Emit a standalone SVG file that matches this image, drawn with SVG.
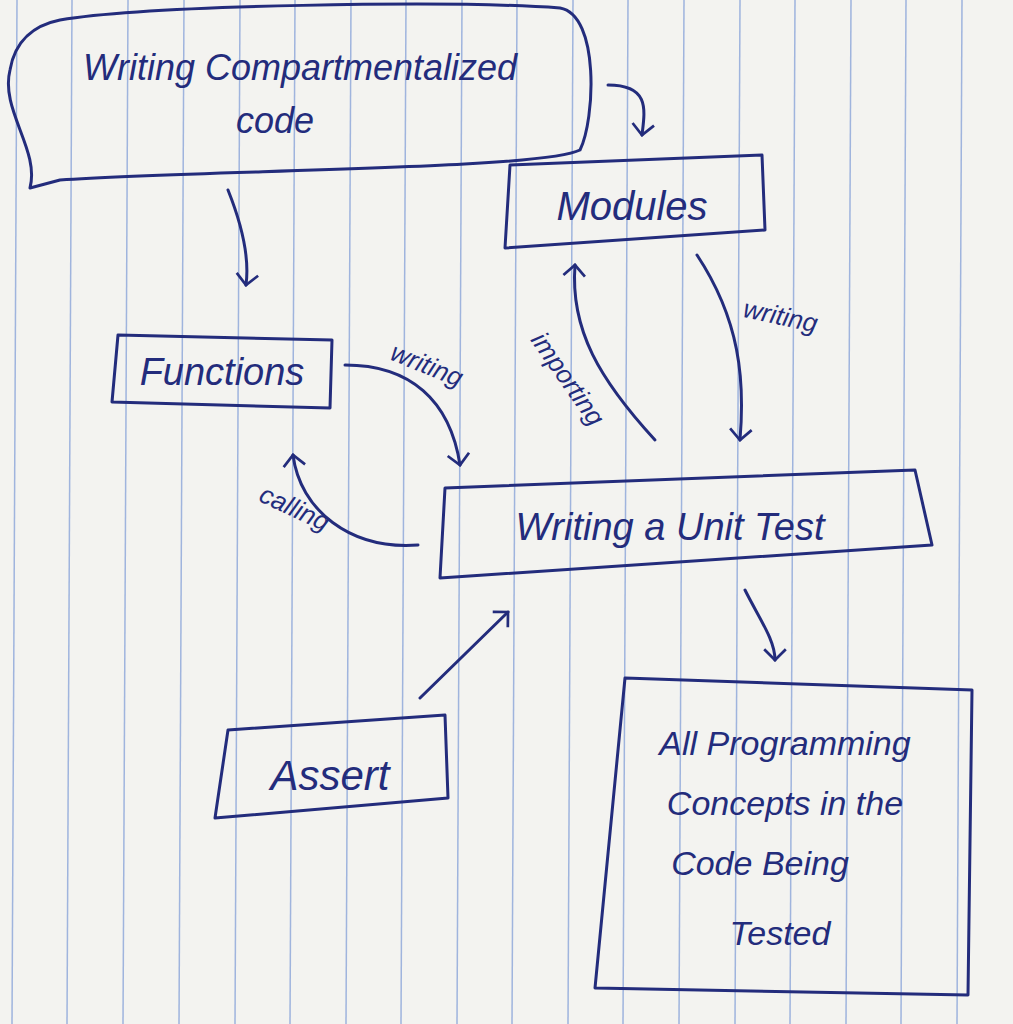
<svg xmlns="http://www.w3.org/2000/svg" width="1013" height="1024" viewBox="0 0 1013 1024">
<style>
.ink{fill:none;stroke:#232c7c;stroke-width:3;stroke-linecap:round;stroke-linejoin:round}
.t{font-family:"Liberation Sans",sans-serif;font-style:italic;fill:#232c7c}
.rule{stroke:#9fb4dd;stroke-width:1.5}
</style>
<defs>
<marker id="a" viewBox="0 0 20 20" refX="10" refY="10" markerWidth="9" markerHeight="9" orient="auto" markerUnits="strokeWidth">
<path d="M2,2 L10,10 L2,18" fill="none" stroke="#232c7c" stroke-width="2"/>
</marker>
</defs>
<rect width="1013" height="1024" fill="#f3f3f0"/>
<g id="rules">
<line class="rule" x1="17" y1="0" x2="12" y2="1024"/><line class="rule" x1="72" y1="0" x2="67" y2="1024"/>
<line class="rule" x1="128" y1="0" x2="123" y2="1024"/><line class="rule" x1="184" y1="0" x2="179" y2="1024"/>
<line class="rule" x1="240" y1="0" x2="235" y2="1024"/><line class="rule" x1="295" y1="0" x2="290" y2="1024"/>
<line class="rule" x1="351" y1="0" x2="346" y2="1024"/><line class="rule" x1="406" y1="0" x2="401" y2="1024"/>
<line class="rule" x1="462" y1="0" x2="457" y2="1024"/><line class="rule" x1="517" y1="0" x2="512" y2="1024"/>
<line class="rule" x1="573" y1="0" x2="568" y2="1024"/><line class="rule" x1="628" y1="0" x2="623" y2="1024"/>
<line class="rule" x1="684" y1="0" x2="679" y2="1024"/><line class="rule" x1="740" y1="0" x2="735" y2="1024"/>
<line class="rule" x1="795" y1="0" x2="790" y2="1024"/><line class="rule" x1="851" y1="0" x2="846" y2="1024"/>
<line class="rule" x1="906" y1="0" x2="901" y2="1024"/><line class="rule" x1="962" y1="0" x2="957" y2="1024"/>
</g>
<g id="cloud">
<path class="ink" d="M60,20 C150,5 450,0 560,8 C600,15 595,120 580,150 C540,170 200,170 60,180 L30,188 C40,150 0,110 10,70 C15,40 35,25 60,20 Z"/>
<text class="t" x="300" y="80" font-size="36" text-anchor="middle">Writing Compartmentalized</text>
<text class="t" x="275" y="133" font-size="36" text-anchor="middle">code</text>
</g>
<g id="modules">
<path class="ink" d="M510,165 L762,155 L765,230 L505,248 Z"/>
<text class="t" x="632" y="220" font-size="40" text-anchor="middle">Modules</text>
</g>
<g id="functions">
<path class="ink" d="M118,335 L332,340 L330,408 L112,402 Z"/>
<text class="t" x="222" y="385" font-size="38" text-anchor="middle">Functions</text>
</g>
<g id="unittest">
<path class="ink" d="M445,488 L915,470 L932,545 L440,578 Z"/>
<text class="t" x="670" y="540" font-size="38" text-anchor="middle">Writing a Unit Test</text>
</g>
<g id="assert">
<path class="ink" d="M228,730 L445,715 L448,798 L215,818 Z"/>
<text class="t" x="330" y="790" font-size="42" text-anchor="middle">Assert</text>
</g>
<g id="concepts">
<path class="ink" d="M625,678 L972,690 L968,995 L595,988 Z"/>
<text class="t" x="785" y="755" font-size="34" text-anchor="middle">All Programming</text>
<text class="t" x="785" y="815" font-size="34" text-anchor="middle">Concepts in the</text>
<text class="t" x="760" y="875" font-size="34" text-anchor="middle">Code Being</text>
<text class="t" x="780" y="945" font-size="34" text-anchor="middle">Tested</text>
</g>
<g id="connectors">
<path class="ink" d="M608,85 C650,85 645,110 642,135" marker-end="url(#a)"/>
<path class="ink" d="M228,190 C240,220 250,255 246,285" marker-end="url(#a)"/>
<path class="ink" d="M697,255 C740,320 745,380 740,440" marker-end="url(#a)"/>
<path class="ink" d="M655,440 C600,380 570,330 575,265" marker-end="url(#a)"/>
<path class="ink" d="M345,365 C410,365 450,400 460,465" marker-end="url(#a)"/>
<path class="ink" d="M418,545 C350,550 300,510 293,455" marker-end="url(#a)"/>
<path class="ink" d="M420,698 L508,612" marker-end="url(#a)"/>
<path class="ink" d="M745,590 C760,620 775,640 775,660" marker-end="url(#a)"/>
<text class="t" x="385" y="372" font-size="26" transform="rotate(22 420 375)">writing</text>
<text class="t" x="740" y="325" font-size="26" transform="rotate(12 780 330)">writing</text>
<text class="t" x="530" y="340" font-size="26" transform="rotate(55 530 340)">importing</text>
<text class="t" x="248" y="517" font-size="26" transform="rotate(25 290 530)">calling</text>
</g>
</svg>
